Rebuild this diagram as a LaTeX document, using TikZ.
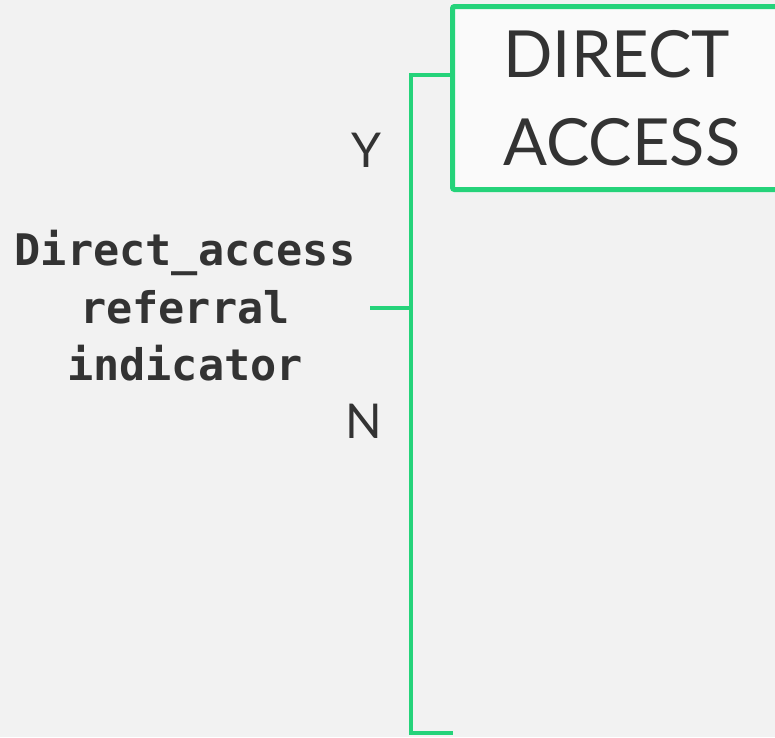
\documentclass[tikz,border=0pt]{standalone}
\usepackage{fontspec}
\newfontfamily\ralefont{Lato}
\newfontfamily\monofont{DejaVu Sans Mono}
\definecolor{bggray}{RGB}{242,242,242}
\definecolor{lngreen}{RGB}{37,211,122}
\definecolor{txtdark}{RGB}{51,51,51}
\definecolor{boxfill}{RGB}{250,250,250}
\tikzset{
  conn/.style={draw=lngreen, line width=4pt, line join=miter},
  bigbox/.style={draw=lngreen, line width=5pt, fill=boxfill, rounded corners=2pt,
    minimum height=183pt, minimum width=360pt, text width=300pt, align=left,
    inner xsep=51pt, inner ysep=0pt, anchor=north west, text=txtdark,
    font=\ralefont\fontsize{65}{88}\selectfont},
  yn/.style={anchor=base, text=txtdark, font=\ralefont\fontsize{48}{58}\selectfont, inner sep=0pt},
  qlabel/.style={align=center, text=txtdark, inner sep=0pt,
    font=\monofont\bfseries\fontsize{43.5}{57.5}\selectfont}
}
\begin{document}
\begin{tikzpicture}[x=1pt,y=-1pt]
\useasboundingbox[fill=bggray] (0,0) rectangle (775,737);
\clip (0,0) rectangle (775,737);
\node[bigbox] (da) at (450,4) {DIRECT\\ACCESS};
\node[qlabel] (q) at (185,306) {Direct\_access\\referral\\indicator};
\node[yn] (y) at (366,167) {Y};
\node[yn] (n) at (364,438) {N};
\coordinate (stub) at (370,308);
\coordinate (junc) at (411,308);
\coordinate (top) at (411,75);
\coordinate (bot) at (411,733);
\coordinate (bend) at (453,733);
\draw[conn] (da.west |- top) -- (top) -- (bot) -- (bend);
\draw[conn] (stub) -- (junc);
\end{tikzpicture}
\end{document}
